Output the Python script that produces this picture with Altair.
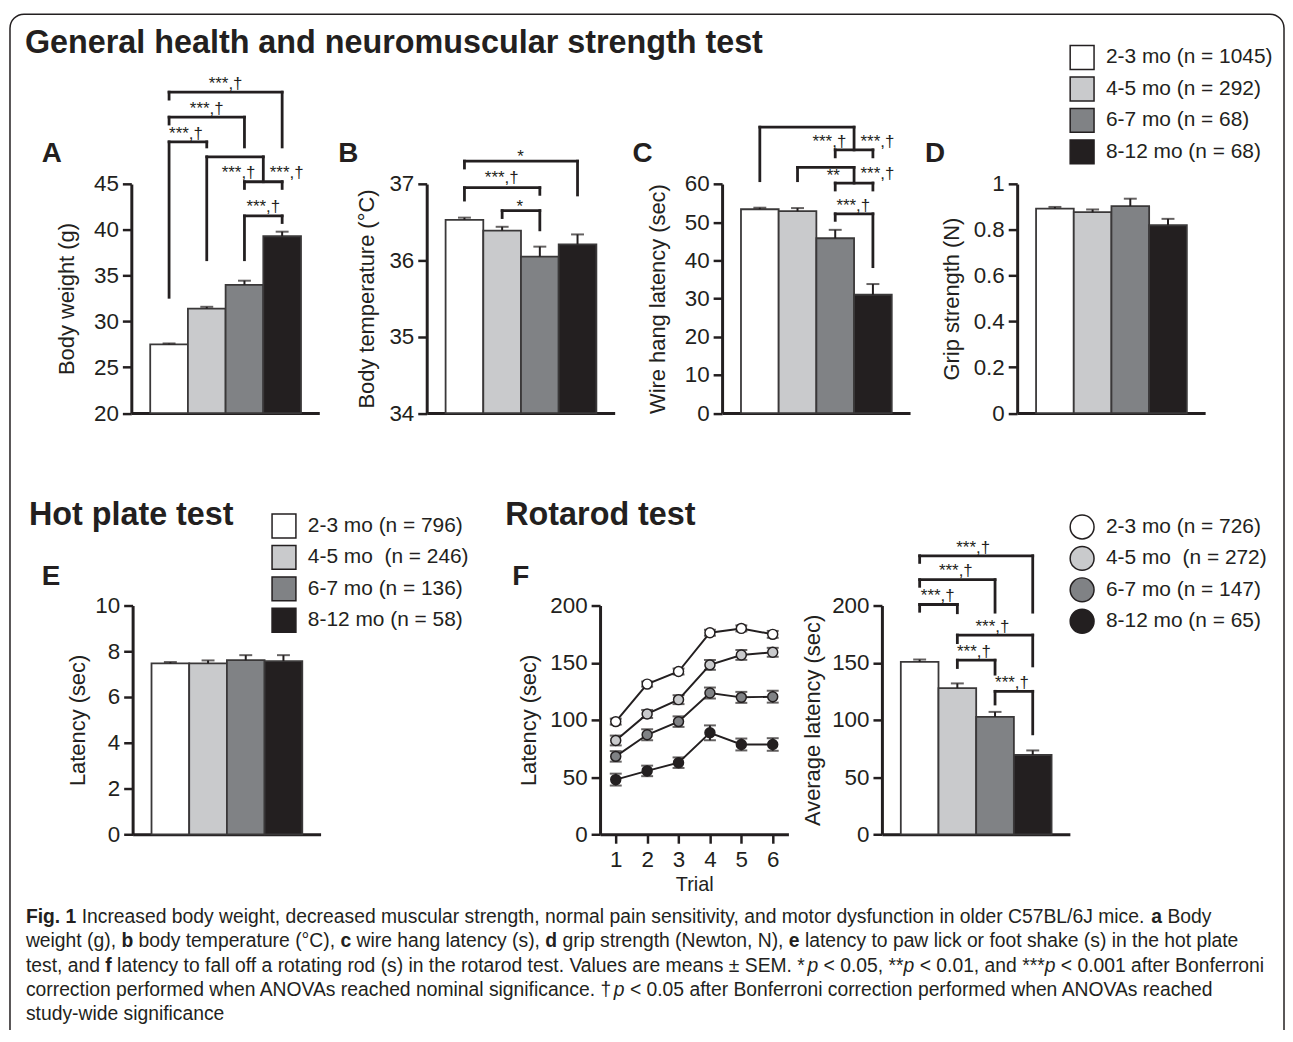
import altair as alt
import pandas as pd

# ---------------------------------------------------------------- data
AGE_GROUPS = ["2-3 mo", "4-5 mo", "6-7 mo", "8-12 mo"]
N_GENERAL = [1045, 292, 68, 68]
N_HOTPLATE = [796, 246, 136, 58]
N_ROTAROD = [726, 272, 147, 65]
LABEL_SPACER_LOWER = ["", "\u00a0", "", ""]   # "4-5 mo  (n = ...)" has a double space

BODY_WEIGHT = [27.5, 31.4, 34.0, 39.3]
BODY_WEIGHT_SEM = [0.1, 0.2, 0.45, 0.5]
BODY_TEMP = [36.53, 36.39, 36.05, 36.21]
BODY_TEMP_SEM = [0.03, 0.05, 0.13, 0.13]
WIRE_HANG = [53.4, 52.9, 45.8, 31.0]
WIRE_HANG_SEM = [0.4, 0.8, 2.2, 2.8]
GRIP = [0.893, 0.877, 0.904, 0.820]
GRIP_SEM = [0.007, 0.012, 0.032, 0.028]
HOT_PLATE = [7.47, 7.47, 7.61, 7.57]
HOT_PLATE_SEM = [0.06, 0.13, 0.22, 0.26]
ROTAROD_AVG = [150.7, 127.8, 102.6, 69.3]
ROTAROD_AVG_SEM = [2.1, 4.1, 4.4, 4.0]

TRIALS = [1, 2, 3, 4, 5, 6]
ROT_2_3 = [98.5, 131.3, 142.3, 176.2, 180.0, 174.8]
ROT_2_3_SEM = [2.6, 2.2, 2.6, 2.6, 2.6, 3.0]
ROT_4_5 = [82.0, 105.2, 117.7, 148.1, 156.8, 159.1]
ROT_4_5_SEM = [4.3, 3.5, 3.9, 4.3, 4.3, 3.9]
ROT_6_7 = [68.1, 87.0, 98.5, 123.5, 119.7, 120.3]
ROT_6_7_SEM = [4.6, 4.8, 4.6, 4.8, 4.8, 5.2]
ROT_8_12 = [47.8, 55.4, 62.6, 88.7, 78.5, 78.5]
ROT_8_12_SEM = [5.2, 4.6, 4.6, 6.5, 5.2, 5.5]

# significance brackets: (group a, group b, bracket height, leg a end, leg b end)
# group positions are bar indices (0..3); 2.5 is the junction between groups 3 and 4
BRACKETS_A = [(0, 3, 55.03, 54.27, 49.05), (0, 2, 52.3, 51.55, 49.05),
              (0, 1, 49.6, 32.64, 49.05), (1, 2.5, 47.97, 36.74, 45.25),
              (2, 3, 45.25, 44.52, 44.52), (2, 3, 41.52, 36.74, 40.8)]
SIG_A = [(1.5, 55.9, "***,†"), (1.0, 53.2, "***,†"), (0.45, 50.5, "***,†"),
         (1.845, 46.15, "***,†"), (3.12, 46.15, "***,†"), (2.5, 42.53, "***,†")]
BRACKETS_B = [(0, 3, 37.30, 37.21, 36.857), (0, 2, 36.952, 36.79, 36.865),
              (1, 2, 36.652, 36.561, 36.40)]
SIG_B = [(1.49, 37.35, "*"), (0.99, 37.073, "***,†"), (1.47, 36.70, "*")]
BRACKETS_C = [(0, 2.5, 74.9, 60.88, 68.94), (2, 3, 68.94, 67.12, 67.12),
              (1, 2.5, 64.34, 60.88, 60.26), (2, 3, 60.26, 58.44, 58.44),
              (2, 3, 52.2, 50.49, 38.36)]
SIG_C = [(1.845, 71.0, "***,†"), (3.12, 71.0, "***,†"), (1.95, 62.0, "**"),
         (3.12, 62.6, "***,†"), (2.48, 54.13, "***,†")]
BRACKETS_F = [(0, 3, 243.5, 237.7, 194.2), (0, 2, 222.6, 216.8, 194.2),
              (0, 1, 200.9, 195.0, 193.7), (1, 3, 174.2, 167.6, 147.2),
              (1, 2, 152.2, 145.8, 140.0), (2, 3, 125.0, 113.9, 87.8)]
SIG_F = [(1.42, 250.2, "***,†"), (0.96, 229.8, "***,†"), (0.48, 208.1, "***,†"),
         (1.93, 181.1, "***,†"), (1.44, 159.4, "***,†"), (2.45, 132.2, "***,†")]

# ---------------------------------------------------------------- style / layout
OFF = 8                       # page margin: picture coords -> chart coords
W, H = 1284, 1022
INK = "#231f20"
EDGE = "#3a3839"
FILLS = ["#ffffff", "#c9cacc", "#808285", "#231f20"]
FONT = "Liberation Sans, Arial, Helvetica, sans-serif"
BAR_W, BAR_IN, AX_LEN = 37.9, 19.0, 189.0
IDX0 = -0.5 - BAR_IN / BAR_W
IDX1 = IDX0 + AX_LEN / BAR_W
TOP_ROW = (412.5, 182.2)
BOT_ROW = (836.0, 606.0)


def px(v):
    return v - OFF


def legend_for(x, y, shape):
    return alt.Legend(orient="none", legendX=px(x), legendY=px(y), title=None,
                      symbolType=shape, symbolSize=576, symbolStrokeColor=INK,
                      symbolStrokeWidth=1.5, labelFont=FONT, labelFontSize=21,
                      labelColor=INK, labelOffset=11, labelLimit=400, rowPadding=1.6,
                      padding=0)


def y_axis(L, title, tx, values, fmt=None):
    kw = dict(orient="left", values=values, offset=-px(L), title=title, titleX=tx,
              titleAngle=270, titleBaseline="middle", labelFlush=False, grid=False)
    if fmt:
        kw["format"] = fmt
    return alt.Axis(**kw)


def bar_panel(L, row, ydom, yticks, values, sems, ytitle, tx, fill_labels,
              legend=None, brackets=(), sigs=(), fmt=None):
    ybot, ytop = row
    xs = alt.Scale(domain=[IDX0, IDX1], range=[px(L), px(L + AX_LEN)], nice=False, zero=False)
    ys = alt.Scale(domain=ydom, range=[px(ybot), px(ytop)], nice=False, zero=False)
    df = pd.DataFrame({"idx": list(range(4)), "mean": values, "sem": sems,
                       "label": fill_labels})
    base = alt.Chart(df).transform_calculate(
        lo="datum.idx - 0.5", hi="datum.idx + 0.5", top="datum.mean + datum.sem")
    xaxis = alt.Axis(orient="bottom", labels=False, ticks=False, title=None,
                     offset=px(ybot) - H, grid=False)
    bars = base.mark_bar(stroke=EDGE, strokeWidth=1.8).encode(
        x=alt.X("lo:Q", scale=xs, axis=xaxis),
        x2=alt.X2("hi"),
        y=alt.Y("mean:Q", scale=ys, axis=y_axis(L, ytitle, tx, yticks, fmt)),
        y2=alt.datum(ydom[0]),
        fill=alt.Fill("label:N", scale=alt.Scale(domain=fill_labels, range=FILLS),
                      legend=legend),
    )
    err = base.mark_rule(color=INK, strokeWidth=2).encode(
        x=alt.X("idx:Q", scale=xs, axis=None),
        y=alt.Y("mean:Q", scale=ys, axis=None),
        y2=alt.Y2("top"),
    )
    cap = base.mark_tick(orient="horizontal", size=13, thickness=2, color=INK).encode(
        x=alt.X("idx:Q", scale=xs, axis=None),
        y=alt.Y("top:Q", scale=ys, axis=None),
    )
    layers = [bars, err, cap]
    if brackets:
        segs = []
        for a, b, yy, ea, eb in brackets:
            segs += [(a, b, yy, yy), (a, a, yy, ea), (b, b, yy, eb)]
        sdf = pd.DataFrame(segs, columns=["xa", "xb", "ya", "yb"])
        layers.append(alt.Chart(sdf).mark_rule(color=INK, strokeWidth=2.8,
                                               strokeCap="square").encode(
            x=alt.X("xa:Q", scale=xs, axis=None), x2=alt.X2("xb"),
            y=alt.Y("ya:Q", scale=ys, axis=None), y2=alt.Y2("yb")))
    if sigs:
        ldf = pd.DataFrame(list(sigs), columns=["xa", "ya", "t"])
        layers.append(alt.Chart(ldf).mark_text(font=FONT, fontSize=17, color=INK,
                                               baseline="middle").encode(
            x=alt.X("xa:Q", scale=xs, axis=None),
            y=alt.Y("ya:Q", scale=ys, axis=None), text="t:N"))
    return layers


LEG_GENERAL = [f"{a} (n = {n})" for a, n in zip(AGE_GROUPS, N_GENERAL)]
LEG_HOT = [f"{a}{s} (n = {n})" for a, s, n in zip(AGE_GROUPS, LABEL_SPACER_LOWER, N_HOTPLATE)]
LEG_ROT = [f"{a}{s} (n = {n})" for a, s, n in zip(AGE_GROUPS, LABEL_SPACER_LOWER, N_ROTAROD)]

layers = []

# border
layers.append(alt.Chart(pd.DataFrame({"k": [0]})).mark_rect(
    fillOpacity=0, stroke=INK, strokeWidth=1.5, cornerRadius=14).encode(
    x=alt.value(px(10)), y=alt.value(px(11.5)), x2=alt.value(px(1291)), y2=alt.value(px(1070))))

layers += bar_panel(132.0, TOP_ROW, [20, 45], [20, 25, 30, 35, 40, 45], BODY_WEIGHT,
                    BODY_WEIGHT_SEM, "Body weight (g)", -64.7, LEG_GENERAL,
                    legend=legend_for(1075, 42.0, "square"), brackets=BRACKETS_A, sigs=SIG_A)
layers += bar_panel(429.0, TOP_ROW, [34, 37], [34, 35, 36, 37], BODY_TEMP, BODY_TEMP_SEM,
                    "Body temperature (°C)", -60.7, LEG_GENERAL, brackets=BRACKETS_B, sigs=SIG_B)
layers += bar_panel(726.0, TOP_ROW, [0, 60], [0, 10, 20, 30, 40, 50, 60], WIRE_HANG,
                    WIRE_HANG_SEM, "Wire hang latency (sec)", -65.3, LEG_GENERAL,
                    brackets=BRACKETS_C, sigs=SIG_C)
layers += bar_panel(1022.7, TOP_ROW, [0, 1], [0, 0.2, 0.4, 0.6, 0.8, 1.0], GRIP, GRIP_SEM,
                    "Grip strength (N)", -66.0, LEG_GENERAL, fmt="~g")
layers += bar_panel(133.3, BOT_ROW, [0, 10], [0, 2, 4, 6, 8, 10], HOT_PLATE, HOT_PLATE_SEM,
                    "Latency (sec)", -55.0, LEG_HOT, legend=legend_for(272.5, 513.0, "square"))
layers += bar_panel(886.7, BOT_ROW, [0, 200], [0, 50, 100, 150, 200], ROTAROD_AVG,
                    ROTAROD_AVG_SEM, "Average latency (sec)", -69.4, LEG_ROT,
                    brackets=BRACKETS_F, sigs=SIG_F)

# rotarod trials line chart
rows = []
for lab, vals, sems in zip(LEG_ROT, [ROT_2_3, ROT_4_5, ROT_6_7, ROT_8_12],
                           [ROT_2_3_SEM, ROT_4_5_SEM, ROT_6_7_SEM, ROT_8_12_SEM]):
    for t, v, s in zip(TRIALS, vals, sems):
        rows.append({"trial": t, "label": lab, "mean": v, "sem": s})
rdf = pd.DataFrame(rows)
LXS = alt.Scale(domain=[0.5, 6.5], range=[px(603.3), px(792.7)], nice=False, zero=False)
LYS = alt.Scale(domain=[0, 200], range=[px(836), px(606)], nice=False, zero=False)
rbase = alt.Chart(rdf).transform_calculate(lo="datum.mean - datum.sem",
                                           hi="datum.mean + datum.sem")
line_x_axis = alt.Axis(orient="bottom", values=TRIALS, offset=px(836) - H, title="Trial",
                       titleFontSize=20, titleY=51, titleBaseline="middle",
                       labelFlush=False, labelPadding=5, grid=False)
layers.append(rbase.mark_line(color=INK, strokeWidth=2).encode(
    x=alt.X("trial:Q", scale=LXS, axis=line_x_axis),
    y=alt.Y("mean:Q", scale=LYS, axis=y_axis(603.3, "Latency (sec)", -71.6,
                                             [0, 50, 100, 150, 200])),
    detail="label:N"))
layers.append(rbase.mark_rule(color=INK, strokeWidth=2).encode(
    x=alt.X("trial:Q", scale=LXS, axis=None), y=alt.Y("lo:Q", scale=LYS, axis=None),
    y2=alt.Y2("hi")))
for end in ["lo", "hi"]:
    layers.append(rbase.mark_tick(orient="horizontal", size=12, thickness=2, color=INK).encode(
        x=alt.X("trial:Q", scale=LXS, axis=None), y=alt.Y(f"{end}:Q", scale=LYS, axis=None)))
layers.append(rbase.mark_circle(size=100, stroke=INK, strokeWidth=1.5, opacity=1).encode(
    x=alt.X("trial:Q", scale=LXS, axis=None), y=alt.Y("mean:Q", scale=LYS, axis=None),
    fill=alt.Fill("label:N", scale=alt.Scale(domain=LEG_ROT, range=FILLS),
                  legend=legend_for(1075, 514.0, "circle"))))


# ---------------------------------------------------------------- text
def text_layer(rows_, size, weight="normal", style="normal"):
    df = pd.DataFrame(rows_, columns=["t", "x", "y"])
    df["x"] = df["x"] - OFF
    df["y"] = df["y"] - OFF
    return alt.Chart(df).mark_text(font=FONT, fontSize=size, fontWeight=weight,
                                   fontStyle=style, align="left", baseline="alphabetic",
                                   color=INK).encode(
        x=alt.X("x:Q", scale=None), y=alt.Y("y:Q", scale=None), text="t:N")


layers.append(text_layer([("General health and neuromuscular strength test", 25, 50),
                          ("Hot plate test", 29, 525), ("Rotarod test", 508, 525)],
                         32.5, "bold"))
layers.append(text_layer([("A", 42, 160.5), ("B", 340, 160.5), ("C", 636, 160.5),
                          ("D", 930, 160.5), ("E", 42, 585), ("F", 515, 585)], 28, "bold"))

# caption (Arial-metric widths used to place bold / italic runs)
_W = {}


def _put(chars, w):
    for ch in chars:
        _W[ch] = w / 1000.0


_put("ijl", 222); _put(" ,.:;/ftI", 278); _put("()-r", 333); _put("*", 389); _put("°", 400)
_put("cksvxyzJ", 500); _put("abdeghnopqu0123456789L†", 556); _put("<=>±+", 584)
_put("FTZ", 611); _put("ABEKPSVXY", 667); _put("CDHNRUw", 722); _put("GOQ", 778)
_put("mM", 833); _put("W", 944)
_WB = dict(_W)
_WB.update({"b": .611, "d": .611, "g": .611, "f": .333, "i": .278, "c": .556, "F": .611})


def em(s, style):
    tab = _WB if style == "b" else _W
    return sum(tab.get(ch, 0.556) for ch in s)


CAPTION = [
    [("Fig. 1", "b"), (" Increased body weight, decreased muscular strength, normal pain "
                       "sensitivity, and motor dysfunction in older C57BL/6J mice. ", "r"),
     ("a", "b"), (" Body", "r")],
    [("weight (g), ", "r"), ("b", "b"), (" body temperature (°C), ", "r"), ("c", "b"),
     (" wire hang latency (s), ", "r"), ("d", "b"), (" grip strength (Newton, N), ", "r"),
     ("e", "b"), (" latency to paw lick or foot shake (s) in the hot plate", "r")],
    [("test, and ", "r"), ("f", "b"),
     (" latency to fall off a rotating rod (s) in the rotarod test. Values are means ± SEM. *", "r"),
     ("p", "i"), (" < 0.05, **", "r"), ("p", "i"), (" < 0.01, and ***", "r"), ("p", "i"),
     (" < 0.001 after Bonferroni", "r")],
    [("correction performed when ANOVAs reached nominal significance. †", "r"), ("p", "i"),
     (" < 0.05 after Bonferroni correction performed when ANOVAs reached", "r")],
    [("study-wide significance", "r")],
]
CAP_X0, CAP_X1 = 26.0, 1218.0
CAP_BASELINES = [925, 949.5, 974, 998.5, 1023]
CAP_FS = (CAP_X1 - CAP_X0) / sum(em(s, st) for s, st in CAPTION[0])

runs = {"r": [], "b": [], "i": []}
for line, yb in zip(CAPTION, CAP_BASELINES):
    x = CAP_X0
    for s, st in line:
        lead = len(s) - len(s.lstrip(" "))
        runs[st].append((s.strip(" "), x + em(" " * lead, st) * CAP_FS, yb))
        x += em(s, st) * CAP_FS
layers.append(text_layer(runs["r"], CAP_FS))
layers.append(text_layer(runs["b"], CAP_FS, "bold"))
layers.append(text_layer(runs["i"], CAP_FS, "normal", "italic"))

chart = alt.layer(*layers).resolve_scale(
    x="independent", y="independent", fill="independent"
).properties(
    width=W, height=H, autosize=alt.AutoSizeParams(type="none"), padding=0
).configure_view(stroke=None).configure_axis(
    domainColor=INK, tickColor=INK, labelColor=INK, titleColor=INK,
    domainWidth=3, tickWidth=2.5, tickSize=9, labelFont=FONT, titleFont=FONT,
    labelFontSize=22.5, titleFontSize=22, titleFontWeight="normal", labelPadding=4,
)

chart.save("out.html", embed_options={"renderer": "svg", "actions": False})
